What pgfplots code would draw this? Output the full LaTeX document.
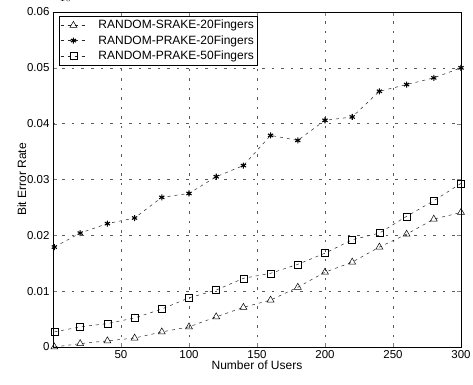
\documentclass[border=0pt]{standalone}
\usepackage{fontspec}
\setmainfont{Liberation Sans}
\usepackage{pgfplots}
\pgfplotsset{compat=1.18}
\begin{document}
\begin{tikzpicture}
\begin{axis}[
  name=ax,
  scale only axis,
  width=408pt, height=335pt,
  xmin=0, xmax=300, ymin=0, ymax=0.06,
  xtick={50,100,150,200,250,300},
  ytick={0,0.01,0.02,0.03,0.04,0.05,0.06},
  yticklabels={0,0.01,0.02,0.03,0.04,0.05,0.06},
  tick align=inside,
  tick pos=both,
  major tick length=4pt,
  /pgf/number format/assume math mode=true,
  tick label style={font=\fontsize{11.5}{13}\selectfont},
  label style={font=\fontsize{12}{14}\selectfont},
  xlabel={Number of Users},
  ylabel={Bit Error Rate},
  xlabel style={yshift=5pt},
  ylabel style={yshift=-6pt},
  grid=major,
  major grid style={black!65, dash pattern=on 2.5pt off 7pt, line width=0.4pt},
  axis line style={black, line width=0.6pt},
  legend style={at={(0.015,0.988)}, anchor=north west, draw=black, line width=0.5pt,
    font=\fontsize{12}{14}\selectfont, row sep=1pt, inner xsep=1pt, inner ysep=2pt},
  legend image code/.code={
    \draw[mark repeat=2, mark phase=2] plot coordinates {(0cm,0cm) (0.45cm,0cm) (0.9cm,0cm)};
    \path (1.25cm,0cm);
  },
  legend cell align=left,
  every axis plot/.append style={black!85, line width=0.5pt, dash pattern=on 3pt off 4pt},
]
\addplot[mark=triangle, mark size=4pt, mark options={solid, black, line width=0.5pt}] coordinates {
(1,0.0000) (20,0.0006) (40,0.0011) (60,0.0016) (80,0.0027) (100,0.0036) (120,0.0054) (140,0.0071) (160,0.0084) (180,0.0107) (200,0.0134) (220,0.0152) (240,0.0179) (260,0.0202) (280,0.0229) (300,0.0241)};
\addlegendentry{RANDOM-SRAKE-20Fingers\hspace{6pt}}
\addplot[mark=asterisk, mark size=3pt, mark options={solid, black, line width=1.1pt}] coordinates {
(1,0.0179) (20,0.0204) (40,0.0221) (60,0.0231) (80,0.0268) (100,0.0275) (120,0.0305) (140,0.0325) (160,0.0379) (180,0.0370) (200,0.0406) (220,0.0412) (240,0.0458) (260,0.0470) (280,0.0482) (300,0.0500)};
\addlegendentry{RANDOM-PRAKE-20Fingers\hspace{6pt}}
\addplot[mark=square, mark size=3.5pt, mark options={solid, black, line width=0.5pt}] coordinates {
(1,0.0027) (20,0.0036) (40,0.0042) (60,0.0052) (80,0.0068) (100,0.0088) (120,0.0102) (140,0.0123) (160,0.0132) (180,0.0148) (200,0.0168) (220,0.0192) (240,0.0204) (260,0.0234) (280,0.0262) (300,0.0293)};
\addlegendentry{RANDOM-PRAKE-50Fingers\hspace{6pt}}
\end{axis}
\pgfresetboundingbox
\path ([xshift=-53pt,yshift=-38pt]ax.south west) rectangle ([xshift=12pt,yshift=12pt]ax.north east);
\end{tikzpicture}
\end{document}
